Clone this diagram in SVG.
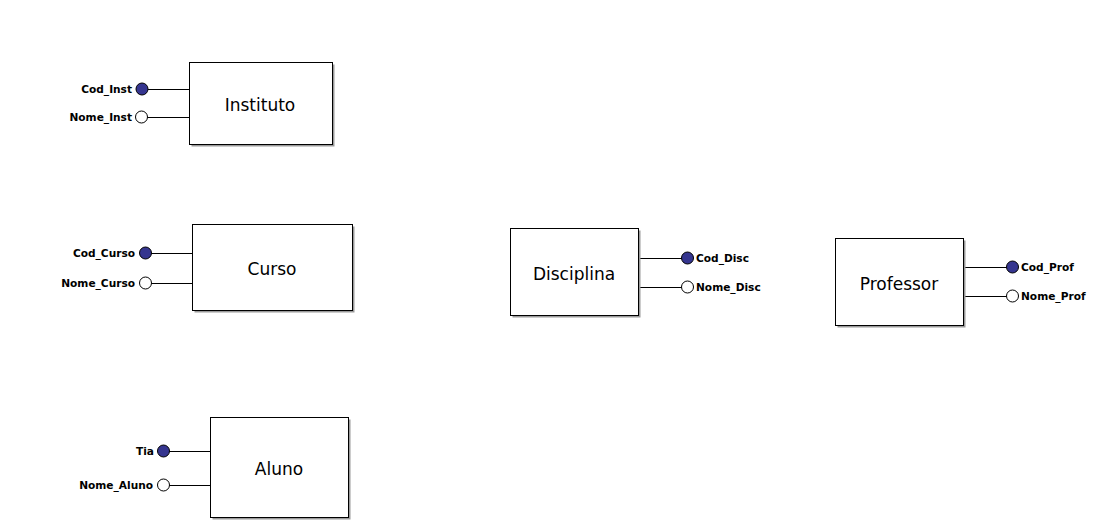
<svg xmlns="http://www.w3.org/2000/svg" width="1095" height="526" viewBox="0 0 1095 526">
<style>
.bg{fill:#ffffff}
.shadow{fill:#9a9a9a}
.box{fill:#ffffff;stroke:#000000;stroke-width:1}
.title{font-family:"DejaVu Sans",Verdana,sans-serif;font-size:17px;fill:#000000;text-anchor:middle}
.attr{font-family:"DejaVu Sans",Verdana,sans-serif;font-size:10.6px;font-weight:bold;fill:#000000}
.l{text-anchor:end}
.line{stroke:#000000;stroke-width:1;fill:none}
.key{fill:#35358f;stroke:#000000;stroke-width:1}
.nokey{fill:#ffffff;stroke:#000000;stroke-width:1}
</style>
<rect class="bg" x="0" y="0" width="1095" height="526"/>
<g id="connectors">
<line class="line" x1="148" y1="89.5" x2="189.5" y2="89.5"/>
<line class="line" x1="147" y1="117.5" x2="189.5" y2="117.5"/>
<line class="line" x1="151" y1="253.5" x2="192.5" y2="253.5"/>
<line class="line" x1="151" y1="283.5" x2="192.5" y2="283.5"/>
<line class="line" x1="169" y1="451.5" x2="210.5" y2="451.5"/>
<line class="line" x1="169" y1="485.5" x2="210.5" y2="485.5"/>
<line class="line" x1="638.5" y1="258.5" x2="682" y2="258.5"/>
<line class="line" x1="638.5" y1="287.5" x2="682" y2="287.5"/>
<line class="line" x1="963.5" y1="267.5" x2="1007" y2="267.5"/>
<line class="line" x1="963.5" y1="296.5" x2="1007" y2="296.5"/>
</g>
<g id="Instituto">
<rect class="shadow" x="191.5" y="64.5" width="143" height="82"/>
<rect class="box" x="189.5" y="62.5" width="143" height="82"/>
<text class="title" x="260" y="111">Instituto</text>
<circle class="key" cx="142" cy="89" r="6"/>
<circle class="nokey" cx="141.5" cy="117" r="6"/>
<text class="attr l" x="132" y="93">Cod_Inst</text>
<text class="attr l" x="132" y="121">Nome_Inst</text>
</g>
<g id="Curso">
<rect class="shadow" x="194.5" y="226.5" width="160" height="86"/>
<rect class="box" x="192.5" y="224.5" width="160" height="86"/>
<text class="title" x="272" y="275">Curso</text>
<circle class="key" cx="145.5" cy="253" r="6"/>
<circle class="nokey" cx="145.5" cy="283" r="6"/>
<text class="attr l" x="135" y="257">Cod_Curso</text>
<text class="attr l" x="135" y="287">Nome_Curso</text>
</g>
<g id="Aluno">
<rect class="shadow" x="212.5" y="419.5" width="138" height="100"/>
<rect class="box" x="210.5" y="417.5" width="138" height="100"/>
<text class="title" x="279" y="475">Aluno</text>
<circle class="key" cx="163.5" cy="451" r="6"/>
<circle class="nokey" cx="163.5" cy="485" r="6"/>
<text class="attr l" x="154" y="455">Tia</text>
<text class="attr l" x="153" y="489">Nome_Aluno</text>
</g>
<g id="Disciplina">
<rect class="shadow" x="512.5" y="230.5" width="128" height="87"/>
<rect class="box" x="510.5" y="228.5" width="128" height="87"/>
<text class="title" x="574" y="280">Disciplina</text>
<circle class="key" cx="687.5" cy="258" r="6"/>
<circle class="nokey" cx="687.5" cy="287" r="6"/>
<text class="attr" x="696" y="262">Cod_Disc</text>
<text class="attr" x="696" y="291">Nome_Disc</text>
</g>
<g id="Professor">
<rect class="shadow" x="837.5" y="240.5" width="128" height="87"/>
<rect class="box" x="835.5" y="238.5" width="128" height="87"/>
<text class="title" x="899" y="290">Professor</text>
<circle class="key" cx="1012.5" cy="267" r="6"/>
<circle class="nokey" cx="1012.5" cy="296" r="6"/>
<text class="attr" x="1021" y="271">Cod_Prof</text>
<text class="attr" x="1021" y="300">Nome_Prof</text>
</g>
</svg>
